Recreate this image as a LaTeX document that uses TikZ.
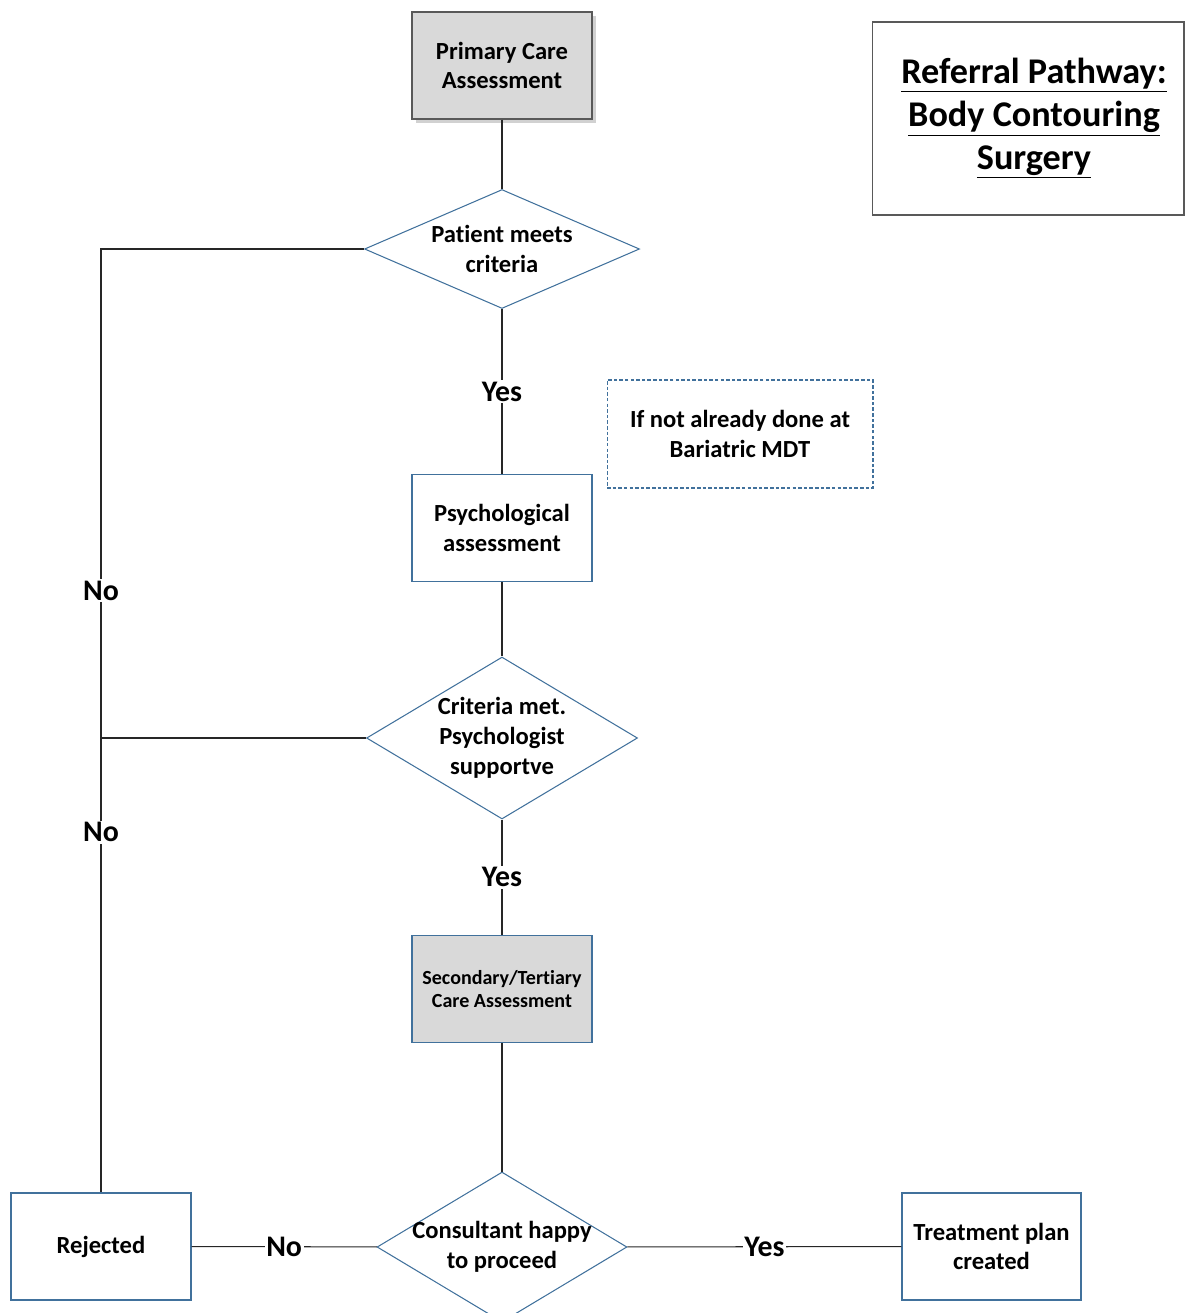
\documentclass[tikz,border=0pt]{standalone}
\usepackage{fontspec}
\setmainfont{Carlito}[Ligatures=NoCommon]
\usetikzlibrary{shapes.geometric,shadows}
\definecolor{outblue}{HTML}{41719C}
\definecolor{boxgrey}{HTML}{D9D9D9}
\definecolor{edgegrey}{HTML}{595959}

\begin{document}
\begin{tikzpicture}[x=0.02cm,y=-0.02cm]
\tikzset{
  box/.style={draw=outblue, line width=0.6pt, minimum width=3.6cm, minimum height=2.14cm, align=center, font=\fontsize{14}{17}\selectfont\bfseries},
  greybox/.style={box, draw=edgegrey, fill=boxgrey},
  dia/.style={diamond, draw=outblue, line width=0.6pt, inner sep=0pt},
  dtxt/.style={align=center, font=\fontsize{14}{17}\selectfont\bfseries},
  lbl/.style={fill=white, inner sep=1pt, text=black, font=\fontsize{17}{20}\selectfont\bfseries},
  con/.style={line width=0.6pt, black!85},
  note/.style={box, dash pattern=on 2pt off 1.2pt, minimum width=5.32cm, minimum height=2.16cm}
}
\useasboundingbox (0,0) rectangle (1185,1313);
% ---------- boxes and decisions ----------
\node[greybox, drop shadow={shadow xshift=0.08cm, shadow yshift=-0.08cm, fill=black!18, opacity=1}] (prim) at (502,65.5) {Primary Care\\Assessment};
\node[box, draw=edgegrey, minimum width=6.24cm, minimum height=3.86cm, inner xsep=0pt, font=\fontsize{20.6}{24.4}\selectfont\bfseries] (title) at (1028,118.5)
  {\hspace*{0.24cm}\underline{Referral Pathway:}\\\hspace*{0.24cm}\underline{Body Contouring}\\\hspace*{0.24cm}\underline{Surgery}};
\node[dia, minimum width=5.5cm, minimum height=2.38cm] (crit) at (502,249) {};
\node[dtxt] at (crit) {Patient meets\\criteria};
\node[note] (mdt) at (740,434) {If not already done at\\Bariatric MDT};
\node[box] (psych) at (502,528) {Psychological\\assessment};
\node[dia, minimum width=5.42cm, minimum height=3.24cm] (psy) at (502,738) {};
\node[dtxt] at (psy) {Criteria met.\\Psychologist\\supportve};
\node[greybox, draw=outblue, font=\fontsize{11.4}{13.6}\selectfont\bfseries] (sec) at (502,989) {Secondary/Tertiary\\Care Assessment};
\node[dia, minimum width=5cm, minimum height=3cm] (cons) at (502,1247) {};
\node[dtxt] at (cons) {Consultant happy\\to proceed};
\node[box] (rej) at (101,1246.5) {Rejected};
\node[box, minimum width=3.58cm] (plan) at (991.5,1246.5) {Treatment plan\\created};
% ---------- connectors ----------
\draw[con] (prim) -- (crit);
\draw[con] (crit) -- node[lbl] {Yes} (psych);
\draw[con] (psych) -- (psy);
\draw[con] (psy) -- node[lbl] {Yes} (sec);
\draw[con] (sec) -- (cons);
\draw[con] (cons) -- node[lbl] {No} (rej);
\draw[con] (cons) -- node[lbl] {Yes} (plan);
\draw[con] (crit.west) -| node[lbl, pos=0.681] {No} node[lbl, pos=0.809] {No} (rej.north);
\draw[con] (psy.west) -- (psy.west -| rej.north);
\end{tikzpicture}
\end{document}
